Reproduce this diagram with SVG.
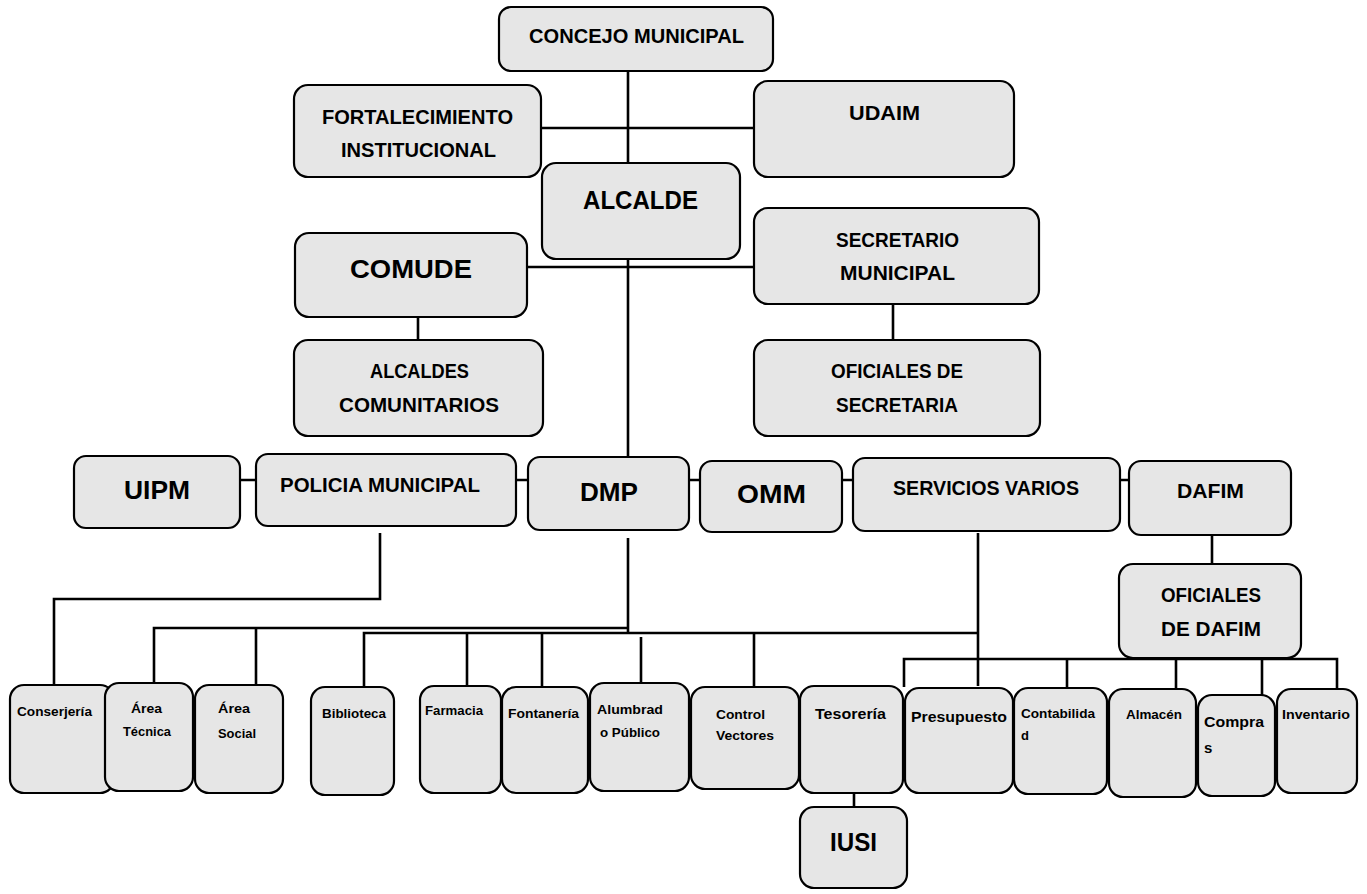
<svg xmlns="http://www.w3.org/2000/svg" width="1367" height="894" viewBox="0 0 1367 894">
<style>
.b{fill:#e6e6e6;stroke:#000;stroke-width:2.2}
.c{fill:none;stroke:#000;stroke-width:2.6}
text{font-family:"Liberation Sans",Arial,sans-serif;font-weight:bold;fill:#000}
.m{font-size:20px;text-anchor:middle}
.L{font-size:26px;text-anchor:middle}
.s{font-size:13px}
.t{font-size:15px}
</style>
<rect width="1367" height="894" fill="#fff"/>
<g id="connectors">
<path class="c" d="M628 71V163M541 128H754M628 259V457M527 267H754M418 317V340M893 304V340"/>
<path class="c" d="M240 480H256M516 480H528M689 480H700M842 480H853M1120 480H1129"/>
<path class="c" d="M380 533V599H54V685"/>
<path class="c" d="M628 538V633M154 683V628H628M256 628V685"/>
<path class="c" d="M364 687V633H978M467 633V685M542 633V687M641 637V687M754 633V686"/>
<path class="c" d="M978 533V686M904 687V659H1337V692M1067 659V688M1176 659V689M1262 659V695"/>
<path class="c" d="M1212 535V564M854 793V807"/>
</g>
<g id="concejo"><rect class="b" x="499" y="7" width="274" height="64" rx="12"/><text class="m" x="636.5" y="43" textLength="215" lengthAdjust="spacingAndGlyphs">CONCEJO MUNICIPAL</text></g>
<g id="fortalecimiento"><rect class="b" x="294" y="85" width="247" height="92" rx="14"/><text class="m" x="417.5" y="124" textLength="191" lengthAdjust="spacingAndGlyphs">FORTALECIMIENTO</text><text class="m" x="418.5" y="157" textLength="155" lengthAdjust="spacingAndGlyphs">INSTITUCIONAL</text></g>
<g id="udaim"><rect class="b" x="754" y="81" width="260" height="96" rx="14"/><text class="m" x="884.5" y="120" textLength="71" lengthAdjust="spacingAndGlyphs">UDAIM</text></g>
<g id="alcalde"><rect class="b" x="542" y="163" width="198" height="96" rx="14"/><text class="L" x="640.5" y="209" textLength="115" lengthAdjust="spacingAndGlyphs">ALCALDE</text></g>
<g id="comude"><rect class="b" x="295" y="233" width="232" height="84" rx="14"/><text class="L" x="411" y="278" textLength="122" lengthAdjust="spacingAndGlyphs">COMUDE</text></g>
<g id="secretario"><rect class="b" x="754" y="208" width="285" height="96" rx="14"/><text class="m" x="897.5" y="247" textLength="123" lengthAdjust="spacingAndGlyphs">SECRETARIO</text><text class="m" x="897.5" y="280" textLength="115" lengthAdjust="spacingAndGlyphs">MUNICIPAL</text></g>
<g id="alcaldes-comunitarios"><rect class="b" x="294" y="340" width="249" height="96" rx="14"/><text class="m" x="419.5" y="378" textLength="99" lengthAdjust="spacingAndGlyphs">ALCALDES</text><text class="m" x="419" y="412" textLength="160" lengthAdjust="spacingAndGlyphs">COMUNITARIOS</text></g>
<g id="oficiales-secretaria"><rect class="b" x="754" y="340" width="286" height="96" rx="14"/><text class="m" x="897" y="378" textLength="132" lengthAdjust="spacingAndGlyphs">OFICIALES DE</text><text class="m" x="897" y="412" textLength="122" lengthAdjust="spacingAndGlyphs">SECRETARIA</text></g>
<g id="uipm"><rect class="b" x="74" y="456" width="166" height="72" rx="12"/><text class="L" x="157" y="499" textLength="66" lengthAdjust="spacingAndGlyphs">UIPM</text></g>
<g id="policia"><rect class="b" x="256" y="454" width="260" height="72" rx="12"/><text class="m" x="380" y="492" textLength="200" lengthAdjust="spacingAndGlyphs">POLICIA MUNICIPAL</text></g>
<g id="dmp"><rect class="b" x="528" y="457" width="161" height="73" rx="12"/><text class="L" x="609" y="501" textLength="58" lengthAdjust="spacingAndGlyphs">DMP</text></g>
<g id="omm"><rect class="b" x="700" y="461" width="142" height="71" rx="12"/><text class="L" x="771.5" y="503" textLength="69" lengthAdjust="spacingAndGlyphs">OMM</text></g>
<g id="servicios"><rect class="b" x="853" y="458" width="267" height="73" rx="12"/><text class="m" x="986" y="495" textLength="186" lengthAdjust="spacingAndGlyphs">SERVICIOS VARIOS</text></g>
<g id="dafim"><rect class="b" x="1129" y="461" width="162" height="74" rx="12"/><text class="m" x="1210.5" y="498" textLength="67" lengthAdjust="spacingAndGlyphs">DAFIM</text></g>
<g id="oficiales-dafim"><rect class="b" x="1119" y="564" width="182" height="94" rx="14"/><text class="m" x="1211" y="602" textLength="100" lengthAdjust="spacingAndGlyphs">OFICIALES</text><text class="m" x="1211" y="636" textLength="100" lengthAdjust="spacingAndGlyphs">DE DAFIM</text></g>
<g id="conserjeria"><rect class="b" x="10" y="685" width="104" height="108" rx="14"/><text class="s" x="17" y="716" textLength="75" lengthAdjust="spacingAndGlyphs">Conserjería</text></g>
<g id="area-tecnica"><rect class="b" x="105" y="683" width="88" height="108" rx="14"/><text class="s" x="131" y="713" textLength="31" lengthAdjust="spacingAndGlyphs">Área</text><text class="s" x="123" y="736" textLength="48" lengthAdjust="spacingAndGlyphs">Técnica</text></g>
<g id="area-social"><rect class="b" x="195" y="685" width="88" height="108" rx="14"/><text class="s" x="218" y="713" textLength="32" lengthAdjust="spacingAndGlyphs">Área</text><text class="s" x="218" y="738" textLength="38" lengthAdjust="spacingAndGlyphs">Social</text></g>
<g id="biblioteca"><rect class="b" x="311" y="687" width="83" height="108" rx="14"/><text class="s" x="322" y="718" textLength="64" lengthAdjust="spacingAndGlyphs">Biblioteca</text></g>
<g id="farmacia"><rect class="b" x="420" y="686" width="81" height="107" rx="14"/><text class="s" x="425" y="715" textLength="58" lengthAdjust="spacingAndGlyphs">Farmacia</text></g>
<g id="fontaneria"><rect class="b" x="502" y="687" width="86" height="106" rx="14"/><text class="s" x="508" y="718" textLength="71" lengthAdjust="spacingAndGlyphs">Fontanería</text></g>
<g id="alumbrado"><rect class="b" x="590" y="683" width="99" height="108" rx="14"/><text class="s" x="597" y="714" textLength="66" lengthAdjust="spacingAndGlyphs">Alumbrad</text><text class="s" x="600" y="737" textLength="60" lengthAdjust="spacingAndGlyphs">o Público</text></g>
<g id="control-vectores"><rect class="b" x="691" y="687" width="108" height="102" rx="14"/><text class="s" x="716" y="719" textLength="49" lengthAdjust="spacingAndGlyphs">Control</text><text class="s" x="716" y="740" textLength="58" lengthAdjust="spacingAndGlyphs">Vectores</text></g>
<g id="tesoreria"><rect class="b" x="800" y="686" width="103" height="107" rx="14"/><text class="t" x="815" y="719" textLength="71" lengthAdjust="spacingAndGlyphs">Tesorería</text></g>
<g id="presupuesto"><rect class="b" x="905" y="688" width="108" height="105" rx="14"/><text class="t" x="911" y="722" textLength="96" lengthAdjust="spacingAndGlyphs">Presupuesto</text></g>
<g id="contabilidad"><rect class="b" x="1014" y="688" width="93" height="106" rx="14"/><text class="s" x="1021" y="718" textLength="74" lengthAdjust="spacingAndGlyphs">Contabilida</text><text class="s" x="1021" y="740">d</text></g>
<g id="almacen"><rect class="b" x="1109" y="689" width="87" height="108" rx="14"/><text class="s" x="1126" y="719" textLength="56" lengthAdjust="spacingAndGlyphs">Almacén</text></g>
<g id="compras"><rect class="b" x="1198" y="695" width="77" height="101" rx="14"/><text class="t" x="1204" y="727" textLength="60" lengthAdjust="spacingAndGlyphs">Compra</text><text class="t" x="1204" y="753">s</text></g>
<g id="inventario"><rect class="b" x="1277" y="689" width="80" height="104" rx="14"/><text class="s" x="1282" y="719" textLength="68" lengthAdjust="spacingAndGlyphs">Inventario</text></g>
<g id="iusi"><rect class="b" x="800" y="807" width="107" height="81" rx="14"/><text class="L" x="853.5" y="851" textLength="47" lengthAdjust="spacingAndGlyphs">IUSI</text></g>
</svg>
